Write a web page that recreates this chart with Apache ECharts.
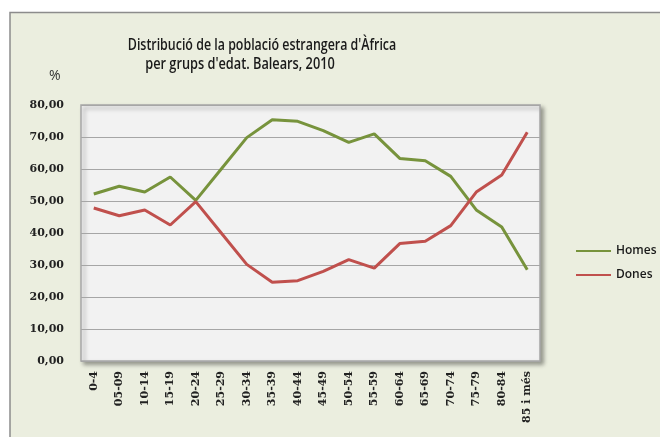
<!DOCTYPE html>
<html>
<head>
<meta charset="utf-8">
<script src="https://cdn.jsdelivr.net/npm/echarts@6/dist/echarts.min.js"></script>
<style>
  html, body { margin: 0; padding: 0; background: #fff; }
  #chart { width: 660px; height: 437px; }
</style>
</head>
<body>
<div id="chart"></div>
<script>
// grups d'edat
const edats = ['0-4', '05-09', '10-14', '15-19', '20-24', '25-29', '30-34', '35-39', '40-44',
  '45-49', '50-54', '55-59', '60-64', '65-69', '70-74', '75-79', '80-84', '85 i més'];
// percentatges llegits del gràfic
const homes = [52.2, 54.6, 52.8, 57.5, 50.2, 60.0, 69.8, 75.4, 74.9, 72.0, 68.3, 71.0, 63.3, 62.6, 57.7, 47.2, 41.9, 28.5];
const dones = [47.8, 45.4, 47.2, 42.5, 49.8, 40.0, 30.2, 24.6, 25.1, 28.0, 31.7, 29.0, 36.7, 37.4, 42.3, 52.8, 58.1, 71.5];

const axisFont = "'DejaVu Serif', serif";
const titleFont = "600 17px 'Open Sans'";

const chart = echarts.init(document.getElementById('chart'));
chart.setOption({
  animation: false,
  backgroundColor: '#fff',
  graphic: [
    { type: 'rect', z: -10,
      shape: { x: 10, y: 12.5, width: 700, height: 500 },
      style: { fill: '#ebeedf', stroke: '#8c8c8c', lineWidth: 1.5 } },
    // títol (l'original és de lletra estreta)
    { type: 'text', x: 262, y: 45, scaleX: 0.73,
      style: { text: "Distribució de la població estrangera d'Àfrica", font: titleFont,
        fill: '#1a1a1a', textAlign: 'center', textVerticalAlign: 'middle' } },
    { type: 'text', x: 240, y: 64, scaleX: 0.75,
      style: { text: "per grups d'edat. Balears, 2010", font: titleFont,
        fill: '#1a1a1a', textAlign: 'center', textVerticalAlign: 'middle' } },
    { type: 'text', x: 49, y: 69,
      style: { text: '%', font: "14px 'Open Sans'", fill: '#333' } }
  ],
  legend: {
    orient: 'vertical', left: 571, top: 240, itemGap: 12,
    icon: 'rect', itemWidth: 35, itemHeight: 2,
    textStyle: { fontFamily: 'Open Sans', fontSize: 12, fontWeight: 600, color: '#1a1a1a' },
    data: ['Homes', 'Dones']
  },
  grid: {
    left: 81, top: 105, right: 120, bottom: 76, show: true,
    backgroundColor: '#f2f2f2', borderColor: '#a6a6a6', borderWidth: 1.5,
    shadowColor: 'rgba(0,0,0,0.35)', shadowBlur: 4, shadowOffsetX: 3, shadowOffsetY: 3
  },
  xAxis: {
    type: 'category', data: edats, boundaryGap: true,
    axisLine: { show: false }, axisTick: { show: false },
    axisLabel: { rotate: 90, margin: 10, interval: 0, fontFamily: axisFont, fontSize: 11, fontWeight: 'bold', color: '#222' }
  },
  yAxis: {
    type: 'value', min: 0, max: 80, interval: 10,
    axisLine: { show: false }, axisTick: { show: false },
    splitLine: { lineStyle: { color: '#a6a6a6', width: 1.2 } },
    axisLabel: { margin: 17, fontFamily: axisFont, fontSize: 11, fontWeight: 'bold', color: '#222',
      formatter: v => v.toFixed(2).replace('.', ',') }
  },
  series: [
    { name: 'Homes', type: 'line', data: homes, symbol: 'none',
      itemStyle: { color: '#77933c' }, lineStyle: { color: '#77933c', width: 3 } },
    { name: 'Dones', type: 'line', data: dones, symbol: 'none',
      itemStyle: { color: '#c0504d' }, lineStyle: { color: '#c0504d', width: 3 } }
  ]
});
</script>
</body>
</html>
